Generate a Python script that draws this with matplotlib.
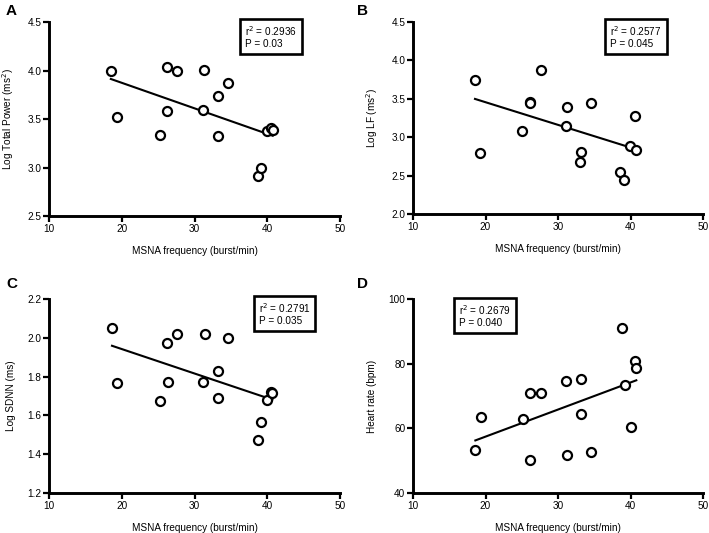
import numpy as np
import matplotlib
matplotlib.use("Agg")
import matplotlib.pyplot as plt

plt.rcParams['font.family'] = ['Liberation Sans', 'DejaVu Sans']

# MSNA frequency (burst/min), per panel
x_a = [18.5, 19.4, 25.2, 26.2, 26.2, 27.6, 31.2, 31.35, 33.2, 33.2, 34.55, 38.7, 39.2, 39.9, 40.5, 40.75]
y_a = [3.996, 3.52, 3.33, 4.04, 3.58, 4.0, 3.59, 4.01, 3.74, 3.32, 3.87, 2.915, 3.0, 3.375, 3.41, 3.39]

x_b = [18.55, 19.3, 25.1, 26.1, 26.2, 27.6, 31.1, 31.3, 33.2, 33.1, 34.5, 38.6, 39.1, 39.9, 40.6, 40.7]
y_b = [3.75, 2.80, 3.08, 3.46, 3.44, 3.87, 3.15, 3.39, 2.81, 2.675, 3.44, 2.545, 2.445, 2.88, 3.27, 2.83]

x_c = [18.66, 19.4, 25.2, 26.2, 26.3, 27.6, 31.2, 31.4, 33.2, 33.2, 34.6, 38.7, 39.2, 39.9, 40.5, 40.7]
y_c = [2.049, 1.769, 1.676, 1.973, 1.774, 2.021, 1.772, 2.021, 1.831, 1.691, 1.999, 1.473, 1.566, 1.678, 1.719, 1.717]

x_d = [18.6, 19.4, 25.2, 26.2, 26.2, 27.6, 31.1, 31.3, 33.2, 33.2, 34.6, 38.8, 39.2, 40.0, 40.6, 40.8]
y_d = [53.3, 63.5, 63.0, 70.9, 50.3, 70.9, 74.5, 51.8, 75.3, 64.3, 52.6, 90.9, 73.4, 60.3, 80.9, 78.8]

panel_letters = ['A', 'B', 'C', 'D']
y_labels = ['Log Total Power (ms$^2$)', 'Log LF (ms$^2$)', 'Log SDNN (ms)', 'Heart rate (bpm)']
x_label = 'MSNA frequency (burst/min)'
stats_text = ['r$^2$ = 0.2936\nP = 0.03', 'r$^2$ = 0.2577\nP = 0.045',
              'r$^2$ = 0.2791\nP = 0.035', 'r$^2$ = 0.2679\nP = 0.040']
x_ticks = [10, 20, 30, 40, 50]
y_ticks_list = [[2.5, 3.0, 3.5, 4.0, 4.5], [2.0, 2.5, 3.0, 3.5, 4.0, 4.5],
                [1.2, 1.4, 1.6, 1.8, 2.0, 2.2], [40, 60, 80, 100]]
y_fmt = ['{:.1f}', '{:.1f}', '{:.1f}', '{:.0f}']

W, H = 709, 533
fig = plt.figure(figsize=(W / 100, H / 100), dpi=100)

# axes boxes in pixels: left, top, right, bottom
boxes = [(49, 22, 340, 216), (413, 22, 703, 214), (49, 299, 340, 493), (413, 299, 703, 493)]
letter_pos = [(6, 11), (357, 11), (6, 284), (357, 284)]
stat_pos = [(0.675, 0.99), (0.68, 0.99), (0.72, 0.99), (0.158, 0.98)]

xs = [x_a, x_b, x_c, x_d]
ys = [y_a, y_b, y_c, y_d]

for i in range(4):
    l, t, r, b = boxes[i]
    ax = fig.add_axes([l / W, 1 - b / H, (r - l) / W, (b - t) / H])
    x = np.array(xs[i]); y = np.array(ys[i])
    ax.plot(x, y, 'o', mfc='white', mec='black', ms=6.5, mew=1.6, zorder=3, clip_on=False)
    k, c = np.polyfit(x, y, 1)
    xl = np.array([x.min(), x.max()])
    ax.plot(xl, k * xl + c, color='black', lw=1.5, zorder=2)
    yt = y_ticks_list[i]
    ax.set_xlim(10, 50)
    ax.set_ylim(yt[0], yt[-1])
    ax.set_xticks(x_ticks)
    ax.set_yticks(yt)
    ax.set_yticklabels([y_fmt[i].format(v) for v in yt])
    for s in ['top', 'right']:
        ax.spines[s].set_visible(False)
    for s in ['left', 'bottom']:
        ax.spines[s].set_linewidth(2.1)
    ax.tick_params(direction='out', length=4, width=1.6, labelsize=7.2, pad=1.5)
    ax.set_xlabel(x_label, fontsize=7.2, labelpad=9)
    ax.set_ylabel(y_labels[i], fontsize=7.2, labelpad=8)
    ax.text(stat_pos[i][0], stat_pos[i][1], stats_text[i], transform=ax.transAxes,
            fontsize=7.2, va='top', ha='left', linespacing=1.15,
            bbox=dict(boxstyle='square,pad=0.5', fc='white', ec='black', lw=1.9), zorder=5)
    fig.text(letter_pos[i][0] / W, 1 - letter_pos[i][1] / H, panel_letters[i],
             fontsize=11, fontweight='bold', va='center', ha='left')

fig.savefig('out.png', dpi=100)
